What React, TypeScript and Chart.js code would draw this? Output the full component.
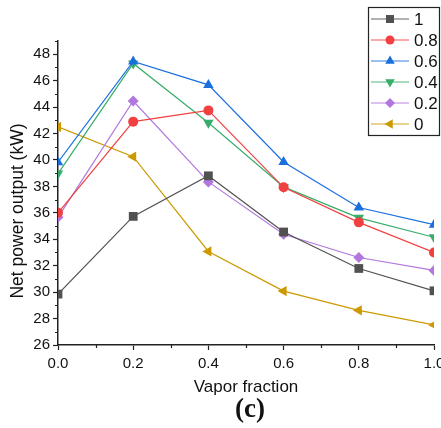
import React, { useEffect, useRef } from "react";
import { Chart, registerables } from "chart.js";
Chart.register(...registerables);

const xValues = [0.0, 0.2, 0.4, 0.6, 0.8, 1.0];
const seriesLabels = ["1", "0.8", "0.6", "0.4", "0.2", "0"];
const s1 = [29.85, 35.73, 38.8, 34.55, 31.79, 30.1];
const s08 = [36.0, 42.9, 43.75, 37.93, 35.28, 33.0];
const s06 = [39.83, 47.45, 45.68, 39.85, 36.4, 35.1];
const s04 = [38.97, 47.3, 42.82, 37.96, 35.62, 34.15];
const s02 = [35.66, 44.46, 38.34, 34.38, 32.62, 31.64];
const s0 = [42.5, 40.25, 33.08, 30.08, 28.62, 27.52];
const seriesValues = [s1, s08, s06, s04, s02, s0];
const colors = ["#515151", "#F14040", "#1A6FDF", "#37AD6B", "#B177DE", "#CC9900"];
const styles = ["rect", "circle", "triangle", "triangle", "rectRot", "triangle"];
const rotations = [0, 0, 0, 180, 0, 270];
const radii = [6.2, 5, 6, 6, 5.5, 6];
const xTicks = [0, 0.2, 0.4, 0.6, 0.8, 1.0];
const yTicks = [26, 28, 30, 32, 34, 36, 38, 40, 42, 44, 46, 48];

const FONT = "'Liberation Sans', Arial, sans-serif";

function marker(ctx: CanvasRenderingContext2D, style: string, rot: number, r: number, x: number, y: number) {
  ctx.save();
  ctx.translate(x, y);
  ctx.rotate((rot * Math.PI) / 180);
  ctx.beginPath();
  if (style === "circle") {
    ctx.arc(0, 0, r, 0, Math.PI * 2);
  } else if (style === "rect") {
    const s = r * Math.SQRT1_2;
    ctx.rect(-s, -s, 2 * s, 2 * s);
  } else if (style === "rectRot") {
    ctx.moveTo(0, -r);
    ctx.lineTo(r, 0);
    ctx.lineTo(0, r);
    ctx.lineTo(-r, 0);
    ctx.closePath();
  } else {
    ctx.moveTo(0, -r);
    ctx.lineTo(r * 0.866, r * 0.5);
    ctx.lineTo(-r * 0.866, r * 0.5);
    ctx.closePath();
  }
  ctx.fill();
  ctx.restore();
}

const extras = {
  id: "extras",
  afterDraw(chart: any) {
    const ctx = chart.ctx;
    const xs = chart.scales.x;
    const ys = chart.scales.y;
    const area = chart.chartArea;
    ctx.save();
    // minor ticks
    ctx.strokeStyle = "#222";
    ctx.lineWidth = 1.2;
    ctx.beginPath();
    for (let v = 27; v <= 49; v += 2) {
      const y = Math.round(ys.getPixelForValue(v)) + 0.5;
      ctx.moveTo(area.left - 3, y);
      ctx.lineTo(area.left, y);
    }
    for (let v = 0.1; v < 1.0; v += 0.2) {
      const x = Math.round(xs.getPixelForValue(v)) + 0.5;
      ctx.moveTo(x, area.bottom);
      ctx.lineTo(x, area.bottom + 3);
    }
    ctx.stroke();
    // axis titles
    ctx.fillStyle = "#111";
    ctx.font = `17px ${FONT}`;
    ctx.textAlign = "center";
    ctx.textBaseline = "middle";
    ctx.fillText("Vapor fraction", 246, 387);
    ctx.save();
    ctx.translate(18, 211);
    ctx.rotate(-Math.PI / 2);
    ctx.font = `17.5px ${FONT}`;
    ctx.fillText("Net power output (kW)", 0, 0);
    ctx.restore();
    ctx.font = `bold 27px 'Liberation Serif', 'Times New Roman', serif`;
    ctx.fillText("(c)", 250, 410);
    // legend
    const lx = 368, ly = 7, lw = 72, lh = 129;
    ctx.fillStyle = "#fff";
    ctx.fillRect(lx, ly, lw, lh);
    ctx.strokeStyle = "#222";
    ctx.lineWidth = 1.2;
    ctx.strokeRect(lx + 0.5, ly + 0.5, lw - 1, lh - 1);
    for (let i = 0; i < seriesLabels.length; i++) {
      const y = 19 + i * 21;
      ctx.globalAlpha = 0.6;
      ctx.strokeStyle = colors[i];
      ctx.lineWidth = 1.5;
      ctx.beginPath();
      ctx.moveTo(371, y);
      ctx.lineTo(409, y);
      ctx.stroke();
      ctx.globalAlpha = 1;
      ctx.fillStyle = colors[i];
      marker(ctx, styles[i], rotations[i], radii[i] - 0.5, 390, y);
      ctx.fillStyle = "#111";
      ctx.font = `17px ${FONT}`;
      ctx.textAlign = "left";
      ctx.fillText(seriesLabels[i], 414, y + 1);
    }
    ctx.restore();
  },
};

export default function App() {
  const ref = useRef<HTMLCanvasElement>(null);
  useEffect(() => {
    document.body.style.margin = "0";
    const datasets = seriesValues.map((vals, i) => ({
      label: seriesLabels[i],
      data: xValues.map((x, j) => ({ x, y: vals[j] })),
      borderColor: colors[i],
      backgroundColor: colors[i],
      borderWidth: 1.2,
      pointStyle: styles[i],
      rotation: rotations[i],
      pointRadius: radii[i],
      pointBorderWidth: 0,
      tension: 0,
    }));
    const chart = new Chart(ref.current!, {
      type: "line",
      data: { datasets: datasets as any },
      plugins: [extras],
      options: {
        animation: false,
        responsive: false,
        events: [],
        layout: { padding: { left: 0, right: 7, top: 41, bottom: 0 } },
        plugins: { legend: { display: false }, tooltip: { enabled: false } },
        scales: {
          x: {
            type: "linear",
            min: 0,
            max: 1,
            afterFit: (s: any) => { s.height = 83; s.paddingLeft = 0; s.paddingRight = 0; },
            afterBuildTicks: (s: any) => { s.ticks = xTicks.map((v) => ({ value: v })); },
            border: { color: "#222", width: 1.5 },
            grid: { drawOnChartArea: false, tickLength: 5, color: "#222", tickWidth: 1.2 },
            ticks: {
              color: "#111",
              font: { family: FONT, size: 15 },
              padding: 5,
              maxRotation: 0,
              callback: (v: any) => Number(v).toFixed(1),
            },
          },
          y: {
            type: "linear",
            min: 26,
            max: 49,
            afterFit: (s: any) => { s.width = 58; s.paddingTop = 0; s.paddingBottom = 0; },
            afterBuildTicks: (s: any) => { s.ticks = yTicks.map((v) => ({ value: v })); },
            border: { color: "#222", width: 1.5 },
            grid: { drawOnChartArea: false, tickLength: 5, color: "#222", tickWidth: 1.2 },
            ticks: {
              color: "#111",
              font: { family: FONT, size: 15 },
              padding: 3,
            },
          },
        },
      },
    });
    return () => chart.destroy();
  }, []);
  return <canvas ref={ref} width={441} height={428} style={{ display: "block" }} />;
}
